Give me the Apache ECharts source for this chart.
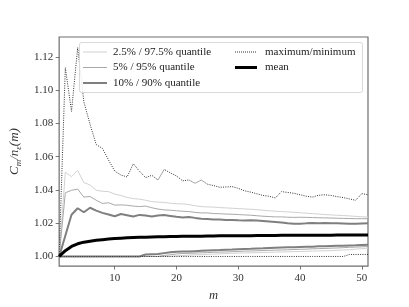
<!DOCTYPE html>
<html><head><meta charset="utf-8">
<script src="https://cdn.jsdelivr.net/npm/echarts@6/dist/echarts.min.js"></script>
<style>html,body{margin:0;padding:0;background:#fff}#c{width:409px;height:307px}</style>
</head><body><div id="c"></div>
<script>
const mValues = Array.from({length: 51}, (_, i) => i + 1);
const xTicks = [10, 20, 30, 40, 50];
const yTicks = [1.00, 1.02, 1.04, 1.06, 1.08, 1.10, 1.12];

const maxVals = [1.000, 1.1135, 1.0873, 1.1256, 1.093, 1.0795, 1.0673, 1.065, 1.058, 1.0513,
  1.049, 1.0478, 1.0558, 1.0513, 1.0474, 1.0488, 1.046, 1.0523, 1.0503, 1.0484,
  1.0455, 1.046, 1.044, 1.046, 1.0435, 1.0426, 1.0416, 1.0418, 1.042, 1.041,
  1.0395, 1.0387, 1.0377, 1.0367, 1.0362, 1.0352, 1.039, 1.0385, 1.038, 1.0371,
  1.0362, 1.0357, 1.0368, 1.0371, 1.0367, 1.036, 1.0354, 1.0346, 1.0338, 1.0378, 1.0371];
const minVals = [1,1,1,1,1,1,1,1,1,1, 1,1,1,1,1,1,1,1,1,1, 1,1,1,1,1,1,1,1,1,1,
  1,1,1,1,1,1,1,1,1,1, 1,1,1,1,1,1,1, 1.0012, 1.0012, 1.0012, 1.0012];
const upper25 = [1.000, 1.0507, 1.048, 1.0517, 1.0445, 1.043, 1.0398, 1.0392, 1.039, 1.0375,
  1.0367, 1.0355, 1.0348, 1.0345, 1.0338, 1.0330, 1.0327, 1.0325, 1.0320, 1.0317,
  1.0316, 1.0312, 1.0305, 1.0300, 1.0298, 1.0297, 1.0294, 1.0292, 1.0290, 1.0288,
  1.0286, 1.0284, 1.0281, 1.0278, 1.0275, 1.0272, 1.0270, 1.0268, 1.0266, 1.0263,
  1.0260, 1.0258, 1.0255, 1.0252, 1.0250, 1.0248, 1.0246, 1.0244, 1.0241, 1.0239, 1.0237];
const upper5 = [1.000, 1.0383, 1.0398, 1.0405, 1.0357, 1.0361, 1.0338, 1.0319, 1.0323, 1.0309,
  1.0310, 1.0308, 1.0303, 1.0300, 1.0303, 1.0293, 1.0285, 1.0280, 1.0278, 1.0275,
  1.0272, 1.0270, 1.0265, 1.0262, 1.0262, 1.0258, 1.0257, 1.0255, 1.0254, 1.0252,
  1.0250, 1.0248, 1.0245, 1.0242, 1.0240, 1.0238, 1.0238, 1.0236, 1.0235, 1.0236,
  1.0235, 1.0234, 1.0233, 1.0232, 1.0231, 1.0230, 1.0229, 1.0228, 1.0227, 1.0227, 1.0227];
const upper10 = [1.000, 1.0125, 1.0251, 1.029, 1.0266, 1.0293, 1.0276, 1.0262, 1.0252, 1.0242,
  1.0255, 1.0248, 1.0240, 1.0250, 1.0246, 1.0241, 1.0246, 1.0249, 1.0244, 1.0239,
  1.0235, 1.0238, 1.0232, 1.0227, 1.0225, 1.0222, 1.0222, 1.0220, 1.0220, 1.0218,
  1.0217, 1.0218, 1.0216, 1.0213, 1.0210, 1.0207, 1.0204, 1.0200, 1.0197, 1.0196,
  1.0199, 1.0201, 1.0200, 1.0201, 1.0200, 1.0199, 1.0198, 1.0197, 1.0196, 1.0198, 1.0200];
const lower10 = [1,1,1,1,1,1,1,1,1,1, 1,1,1,1, 1.0012, 1.0014, 1.0015, 1.0020, 1.0025, 1.0029,
  1.0030, 1.0030, 1.0032, 1.0034, 1.0036, 1.0038, 1.0039, 1.0041, 1.0042, 1.0044,
  1.0045, 1.0046, 1.0048, 1.0049, 1.0051, 1.0053, 1.0054, 1.0055, 1.0056, 1.0057,
  1.0058, 1.0059, 1.0061, 1.0062, 1.0063, 1.0064, 1.0065, 1.0066, 1.0067, 1.0069, 1.0070];
const lower5 = [1,1,1,1,1,1,1,1,1,1, 1,1,1,1,1,1,1, 1.0006, 1.0010, 1.0015,
  1.0018, 1.0019, 1.0020, 1.0022, 1.0023, 1.0025, 1.0026, 1.0027, 1.0029, 1.0030,
  1.0032, 1.0033, 1.0034, 1.0036, 1.0037, 1.0038, 1.0039, 1.0040, 1.0042, 1.0043,
  1.0044, 1.0046, 1.0047, 1.0048, 1.0050, 1.0051, 1.0053, 1.0055, 1.0056, 1.0058, 1.0060];
const lower25 = [1,1,1,1,1,1,1,1,1,1, 1,1,1,1,1,1,1,1,1, 1.0004,
  1.0006, 1.0008, 1.0010, 1.0011, 1.0013, 1.0014, 1.0016, 1.0017, 1.0019, 1.0020,
  1.0021, 1.0022, 1.0023, 1.0024, 1.0025, 1.0026, 1.0027, 1.0028, 1.0029, 1.0030,
  1.0031, 1.0032, 1.0033, 1.0034, 1.0035, 1.0037, 1.0039, 1.0041, 1.0044, 1.0047, 1.0050];
const meanVals = [1.000, 1.0035, 1.0060, 1.0076, 1.0086, 1.0092, 1.0097, 1.0101, 1.0105, 1.0108,
  1.0110, 1.0112, 1.0114, 1.0115, 1.0116, 1.0117, 1.0118, 1.0119, 1.0120, 1.0120,
  1.0121, 1.0121, 1.0122, 1.0122, 1.0123, 1.0123, 1.0124, 1.0124, 1.0124, 1.0125,
  1.0125, 1.0125, 1.0126, 1.0126, 1.0126, 1.0126, 1.0127, 1.0127, 1.0127, 1.0127,
  1.0128, 1.0128, 1.0128, 1.0128, 1.0128, 1.0129, 1.0129, 1.0129, 1.0129, 1.0129, 1.0129];

const legendNames = ['2.5% / 97.5% quantile', '5% / 95% quantile', '10% / 90% quantile', 'maximum/minimum', 'mean'];

const FONT = 'Liberation Serif';
const FS = 11;
const C25 = '#d2d2d2', C5 = '#a9a9a9', C10 = '#7f7f7f';

function pts(arr) { return mValues.map((m, i) => [m, arr[i]]); }
function line(name, arr, color, width, type, z) {
  return { name, type: 'line', data: pts(arr), showSymbol: false, symbol: 'none', silent: true,
    animation: false, z: z || 2, lineStyle: { color, width, type: type || 'solid', cap: 'butt' } };
}

const chart = echarts.init(document.getElementById('c'), null, { renderer: 'canvas' });

const lx1 = 83, lx2 = 235, ly = [52, 67.5, 83];
const tfont = FS + 'px "' + FONT + '"';
const legendGraphics = [
  { type: 'rect', shape: { x: 79.5, y: 42.5, width: 283, height: 50, r: 2 },
    style: { fill: 'rgba(255,255,255,0.85)', stroke: '#d9d9d9', lineWidth: 1 }, z: 100 },
  { type: 'line', shape: { x1: lx1, y1: ly[0], x2: lx1 + 24, y2: ly[0] }, style: { stroke: C25, lineWidth: 1 }, z: 101 },
  { type: 'line', shape: { x1: lx1, y1: ly[1], x2: lx1 + 24, y2: ly[1] }, style: { stroke: C5, lineWidth: 1 }, z: 101 },
  { type: 'line', shape: { x1: lx1, y1: ly[2], x2: lx1 + 24, y2: ly[2] }, style: { stroke: C10, lineWidth: 2 }, z: 101 },
  { type: 'line', shape: { x1: lx2, y1: ly[0], x2: lx2 + 22, y2: ly[0] }, style: { stroke: '#333', lineWidth: 1, lineDash: [1, 1] }, z: 101 },
  { type: 'line', shape: { x1: lx2, y1: ly[1], x2: lx2 + 22, y2: ly[1] }, style: { stroke: '#000', lineWidth: 3 }, z: 101 },
  { type: 'text', x: 113, y: ly[0], style: { text: legendNames[0], font: tfont, fill: '#222', verticalAlign: 'middle' }, z: 101 },
  { type: 'text', x: 113, y: ly[1], style: { text: legendNames[1], font: tfont, fill: '#222', verticalAlign: 'middle' }, z: 101 },
  { type: 'text', x: 113, y: ly[2], style: { text: legendNames[2], font: tfont, fill: '#222', verticalAlign: 'middle' }, z: 101 },
  { type: 'text', x: 265, y: ly[0], style: { text: legendNames[3], font: tfont, fill: '#222', verticalAlign: 'middle' }, z: 101 },
  { type: 'text', x: 265, y: ly[1], style: { text: legendNames[4], font: tfont, fill: '#222', verticalAlign: 'middle' }, z: 101 }
];

chart.setOption({
  animation: false,
  backgroundColor: '#fff',
  grid: { left: 51, right: 41, top: 37, bottom: 34, show: true, borderColor: '#6e6e6e', borderWidth: 1.2, backgroundColor: 'transparent' },
  xAxis: {
    type: 'value', min: 1, max: 51,
    name: 'm', nameLocation: 'middle', nameGap: 22,
    nameTextStyle: { fontFamily: FONT, fontStyle: 'italic', fontSize: 12.5, color: '#333' },
    axisLine: { show: false },
    splitLine: { show: false },
    axisTick: { show: true, length: 3.5, inside: false, customValues: xTicks, lineStyle: { color: '#555', width: 0.8 } },
    axisLabel: { customValues: xTicks, margin: 7, fontFamily: FONT, fontSize: FS, color: '#333' }
  },
  yAxis: {
    type: 'value', min: 0.9942, max: 1.132,
    name: '{i|C}{s|m}{i|/n}{s|ε}{i|(m)}', nameLocation: 'middle', nameGap: 37, nameRotate: 90,
    nameTextStyle: {
      color: '#333',
      rich: {
        i: { fontFamily: FONT, fontStyle: 'italic', fontSize: 13, color: '#333', verticalAlign: 'top', lineHeight: 14 },
        s: { fontFamily: FONT, fontStyle: 'italic', fontSize: 9, color: '#333', verticalAlign: 'top', padding: [6, 0, 0, 0], lineHeight: 10 }
      }
    },
    axisLine: { show: false },
    splitLine: { show: false },
    axisTick: { show: true, length: 3.5, inside: false, customValues: yTicks, lineStyle: { color: '#555', width: 0.8 } },
    axisLabel: { customValues: yTicks, margin: 6, fontFamily: FONT, fontSize: FS, color: '#333', formatter: v => v.toFixed(2) }
  },
  series: [
    line(legendNames[0], upper25, C25, 1, 'solid', 2),
    line(legendNames[0], lower25, C25, 1, 'solid', 2),
    line(legendNames[1], upper5, C5, 1, 'solid', 3),
    line(legendNames[1], lower5, C5, 1, 'solid', 3),
    line(legendNames[2], upper10, C10, 2, 'solid', 4),
    line(legendNames[2], lower10, C10, 2, 'solid', 4),
    line(legendNames[3], maxVals, '#333', 1, [1, 1.3], 5),
    line(legendNames[3], minVals, '#333', 1, [1, 1.3], 5),
    line(legendNames[4], meanVals, '#000', 3, 'solid', 6)
  ],
  graphic: legendGraphics
});
</script>
</body></html>
